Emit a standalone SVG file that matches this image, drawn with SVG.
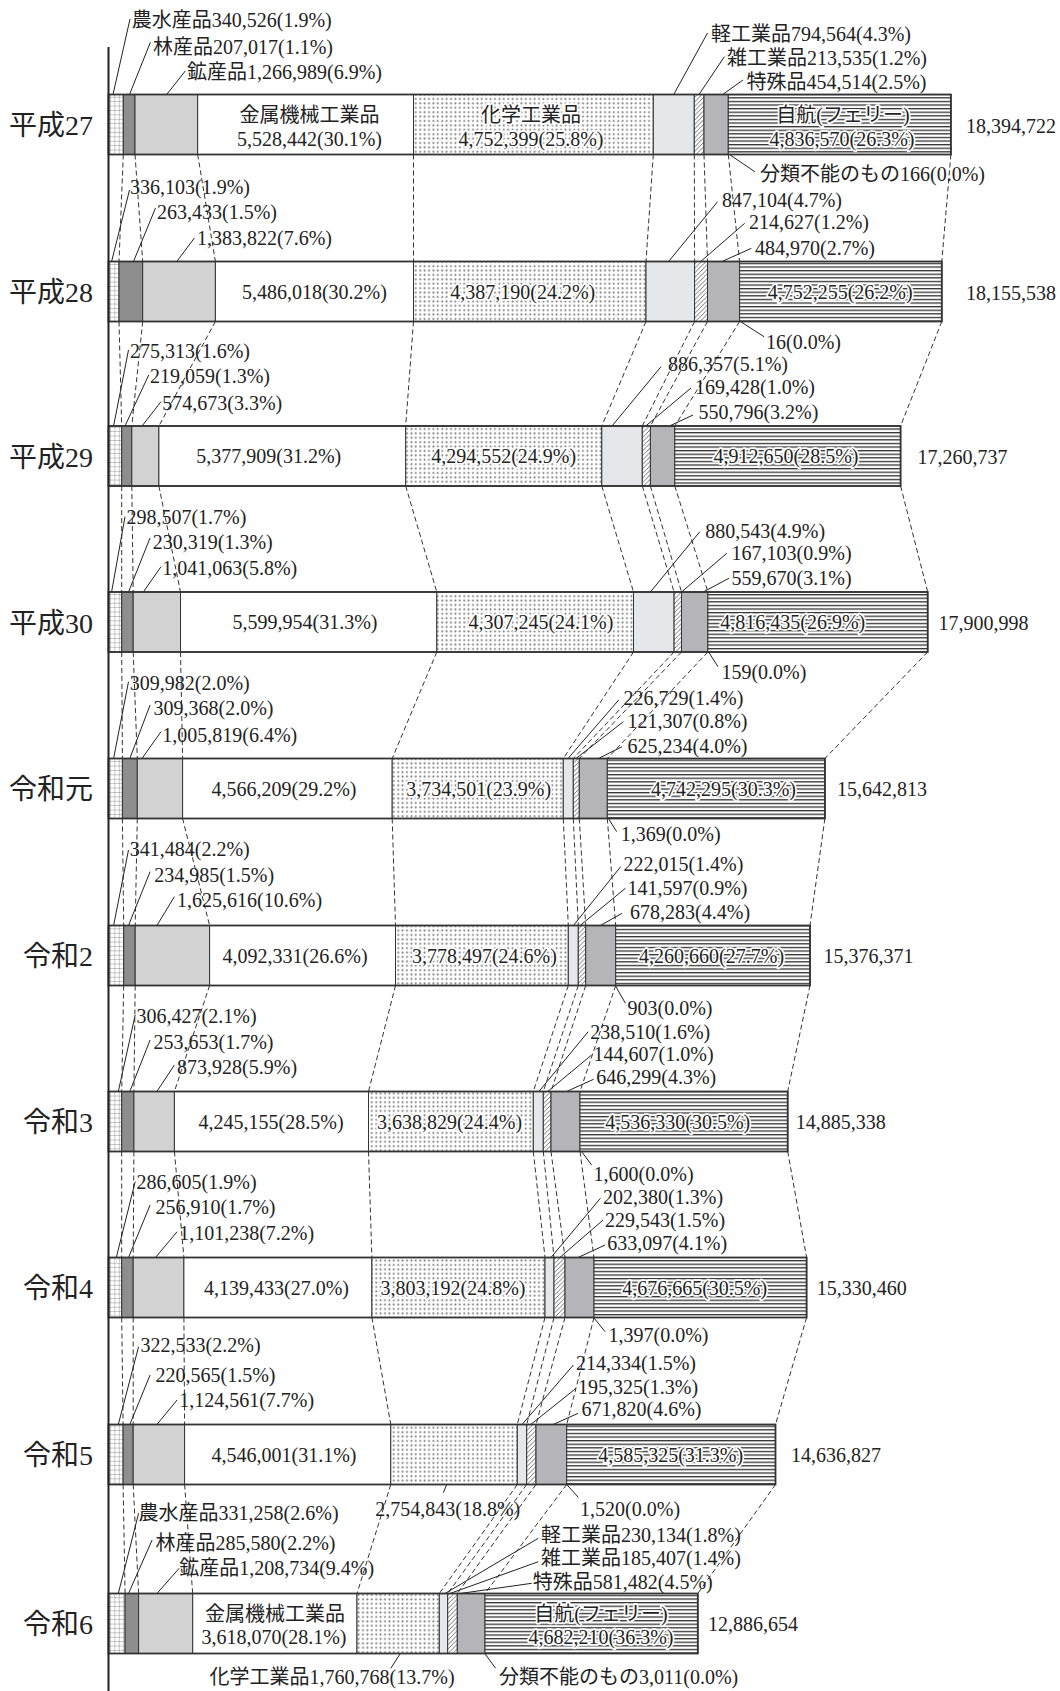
<svg xmlns="http://www.w3.org/2000/svg" width="1060" height="1691" viewBox="0 0 1060 1691">
<style>
.t{font-family:"Liberation Serif","Noto Sans CJK JP",serif;font-size:20px;fill:#222}
.m{text-anchor:middle}
.h{paint-order:stroke;stroke:#fff;stroke-width:3.5px;stroke-linejoin:round}
.rl{font-family:"Liberation Serif","Noto Sans CJK JP",serif;font-size:28px;fill:#222;text-anchor:end}
rect{stroke:#333;stroke-width:1}
.s0{fill:url(#grid)}.s1{fill:#8e8e8e}.s2{fill:#d2d2d2}.s3{fill:#fff}.s4{fill:url(#dots)}
.s5{fill:#e6e7e9}.s6{fill:url(#hatch)}.s7{fill:#b5b5b7}.s8{fill:url(#hl)}
.o{fill:none;stroke:#333;stroke-width:1.8}
.dash{fill:none;stroke:#333;stroke-width:1;stroke-dasharray:5 3}
.ld{fill:none;stroke:#222;stroke-width:1}
</style>
<defs>
<pattern id="grid" width="4.4" height="4.4" patternUnits="userSpaceOnUse"><rect width="4.4" height="4.4" style="fill:#fff;stroke:none"/><path d="M0,0H4.4M0,0V4.4" stroke="#777" stroke-width="0.8" fill="none"/></pattern>
<pattern id="dots" width="4.4" height="4.4" patternUnits="userSpaceOnUse"><rect width="4.4" height="4.4" style="fill:#fff;stroke:none"/><circle cx="2.2" cy="2.2" r="1" fill="#7a7a7a"/></pattern>
<pattern id="hatch" width="4.5" height="4.5" patternUnits="userSpaceOnUse"><rect width="4.5" height="4.5" style="fill:#fff;stroke:none"/><path d="M0,4.5L4.5,0M-1,1L1,-1M3.5,5.5L5.5,3.5" stroke="#333" stroke-width="0.7"/></pattern>
<pattern id="hl" width="4" height="3.6" patternUnits="userSpaceOnUse"><rect width="4" height="3.6" style="fill:#fff;stroke:none"/><rect width="4" height="1.3" style="fill:#333;stroke:none"/></pattern>
</defs>
<rect x="0" y="0" width="1060" height="1691" style="fill:#fff;stroke:none"/>

<g id="connectors">
<path class="dash" d="M123.3,154.5L119,261.5M135,154.5L142.7,261.5M197.7,154.5L215.4,261.5M413.5,154.5L413.5,261.5M653.3,154.5L646,261.5M694.3,154.5L694.6,261.5M704,154.5L707.5,261.5M728.3,154.5L739.6,261.5M950.9,154.5L941.8,261.5"/>
<path class="dash" d="M119,321.5L121.7,426M142.7,321.5L131.8,426M215.4,321.5L158.9,426M413.5,321.5L405.7,426M646,321.5L601.8,426M694.6,321.5L642.3,426M707.5,321.5L650.4,426M739.6,321.5L674.8,426M941.8,321.5L900.6,426"/>
<path class="dash" d="M121.7,486L121.7,592M131.8,486L133.2,592M158.9,486L180.5,592M405.7,486L436.8,592M601.8,486L633.5,592M642.3,486L674.1,592M650.4,486L681.5,592M674.8,486L707.9,592M900.6,486L927.7,592"/>
<path class="dash" d="M121.7,652L122.4,758.5M133.2,652L137.3,758.5M180.5,652L182.6,758.5M436.8,652L392.2,758.5M633.5,652L563.3,758.5M674.1,652L573.3,758.5M681.5,652L579.3,758.5M707.9,652L607.3,758.5M927.7,652L824.9,758.5"/>
<path class="dash" d="M122.4,818.5L123.7,925.5M137.3,818.5L135.2,925.5M182.6,818.5L209.6,925.5M392.2,818.5L395.5,925.5M563.3,818.5L568.3,925.5M573.3,818.5L578.3,925.5M579.3,818.5L585.7,925.5M607.3,818.5L615.7,925.5M824.9,818.5L810,925.5"/>
<path class="dash" d="M123.7,985.5L121.7,1091.5M135.2,985.5L133.9,1091.5M209.6,985.5L174.4,1091.5M395.5,985.5L368.5,1091.5M568.3,985.5L533.3,1091.5M578.3,985.5L543.3,1091.5M585.7,985.5L551,1091.5M615.7,985.5L580,1091.5M810,985.5L787.7,1091.5"/>
<path class="dash" d="M121.7,1151.5L121.7,1257.5M133.9,1151.5L133.2,1257.5M174.4,1151.5L183.9,1257.5M368.5,1151.5L371.9,1257.5M533.3,1151.5L545,1257.5M543.3,1151.5L554,1257.5M551,1151.5L565,1257.5M580,1151.5L594,1257.5M787.7,1151.5L806.6,1257.5"/>
<path class="dash" d="M121.7,1317.5L123.1,1424.5M133.2,1317.5L133.2,1424.5M183.9,1317.5L184.6,1424.5M371.9,1317.5L390.8,1424.5M545,1317.5L517.3,1424.5M554,1317.5L526.7,1424.5M565,1317.5L536,1424.5M594,1317.5L566.7,1424.5M806.6,1317.5L775.5,1424.5"/>
<path class="dash" d="M123.1,1484.5L125.1,1593.5M133.2,1484.5L138.6,1593.5M184.6,1484.5L192.7,1593.5M390.8,1484.5L357,1593.5M517.3,1484.5L439.3,1593.5M526.7,1484.5L447.7,1593.5M536,1484.5L457.3,1593.5M566.7,1484.5L485,1593.5M775.5,1484.5L697.8,1593.5"/>
<path class="ld" d="M130,19L113,94.5M150.4,42.3L129.5,94.5M185.3,71L166.7,94.5M707.5,33L673.7,94.5M724.4,56.7L699,94.5M743,80L722.7,94.5M729.5,154.5L754.8,171.7"/>
<path class="ld" d="M129.5,190L111.6,261.5M155.5,208L133.5,261.5M194.4,238L176.8,261.5M717.6,201.7L668.6,261.5M744.7,223.3L700.7,261.5M751.4,248.3L722,261.5M740.4,321.5L764,336.7"/>
<path class="ld" d="M128.5,350L113.6,426M148.7,375L125,426M161,401.7L142,426M661,366.7L612,426M691,388L645.7,426M693,415L669.4,426"/>
<path class="ld" d="M125,516.7L111.6,592M150,538L128.5,592M161,566.7L143.3,592M699.8,531.7L650.4,592M726.8,553.3L681.5,592M728.9,578.3L703.2,592M708.6,652L718,666.7"/>
<path class="ld" d="M128.5,681.7L113.6,758.5M150.1,705L129.8,758.5M161,731.7L142,758.5M618.7,700L568,758.5M623.4,721.7L576,758.5M622,746.7L598.4,758.5M608.5,818.5L616.6,831.7"/>
<path class="ld" d="M128.5,850L113.6,925.5M150.1,871.7L128.5,925.5M174.4,896.7L156.9,925.5M620.7,866.7L573.4,925.5M625.4,888.3L580.1,925.5M622,913.3L600.4,925.5M615.3,985.5L625.4,1003.3"/>
<path class="ld" d="M135.2,1015L118.3,1091.5M150.1,1040L129.8,1091.5M174.4,1065L156.9,1091.5M588.2,1031.7L538.9,1091.5M591.6,1055L547.7,1091.5M593.6,1079.3L566.6,1091.5M581.5,1151.5L591.6,1165"/>
<path class="ld" d="M135.2,1181.7L116.3,1257.5M150.1,1205L128.5,1257.5M177.1,1231.7L155.5,1257.5M600.4,1198.3L551,1257.5M603.1,1220L559.8,1257.5M605.1,1245L578.1,1257.5M593.6,1317.5L605.1,1331.7"/>
<path class="ld" d="M138.6,1346.7L118.3,1424.5M150.1,1375L129.8,1424.5M177.1,1400L156.9,1424.5M573.4,1365L522,1424.5M576,1388.3L530.8,1424.5M578.1,1413.3L553.1,1424.5M446.7,1484.5L443.3,1492.7M566.7,1484.5L578.3,1497.3"/>
<path class="ld" d="M138.6,1513.3L118.3,1593.5M152.1,1540L128.5,1593.5M179.2,1568.3L156.9,1593.5M538.3,1538.3L445,1593.5M538.3,1561.7L450,1593.5M531.7,1583.3L460,1593.5M400.3,1653.5L390.8,1668.3M484.8,1653.5L495.6,1668.3"/>
</g>

<g id="row-h27">
<rect class="s0" x="108.5" y="94.5" width="14.8" height="60"/><rect class="s1" x="123.3" y="94.5" width="11.7" height="60"/><rect class="s2" x="135" y="94.5" width="62.7" height="60"/><rect class="s3" x="197.7" y="94.5" width="215.8" height="60"/><rect class="s4" x="413.5" y="94.5" width="239.8" height="60"/><rect class="s5" x="653.3" y="94.5" width="41" height="60"/><rect class="s6" x="694.3" y="94.5" width="9.7" height="60"/><rect class="s7" x="704" y="94.5" width="24.3" height="60"/><rect class="s8" x="728.3" y="94.5" width="222.6" height="60"/><rect class="o" x="108.5" y="94.5" width="842.4" height="60"/>
<text class="rl" x="93" y="135">平成27</text>
<text class="t" x="131.8" y="27">農水産品340,526(1.9%)</text>
<text class="t" x="153" y="53.5">林産品207,017(1.1%)</text>
<text class="t" x="187" y="78.5">鉱産品1,266,989(6.9%)</text>
<text class="t" x="711" y="40.5">軽工業品794,564(4.3%)</text>
<text class="t" x="727" y="64.5">雑工業品213,535(1.2%)</text>
<text class="t" x="746.5" y="88.5">特殊品454,514(2.5%)</text>
<text class="t" x="760" y="180.5">分類不能のもの166(0.0%)</text>
<text class="t" x="966" y="133">18,394,722</text>
<text class="t m" x="309.5" y="122">金属機械工業品</text>
<text class="t m" x="309.5" y="145.5">5,528,442(30.1%)</text>
<text class="t m h" x="531" y="122">化学工業品</text>
<text class="t m h" x="531" y="145.5">4,752,399(25.8%)</text>
<text class="t m h" x="843" y="122">自航(フェリー)</text>
<text class="t m h" x="842" y="145.5">4,836,570(26.3%)</text>
</g>

<g id="row-h28">
<rect class="s0" x="108.5" y="261.5" width="10.5" height="60"/><rect class="s1" x="119" y="261.5" width="23.7" height="60"/><rect class="s2" x="142.7" y="261.5" width="72.7" height="60"/><rect class="s3" x="215.4" y="261.5" width="198.1" height="60"/><rect class="s4" x="413.5" y="261.5" width="232.5" height="60"/><rect class="s5" x="646" y="261.5" width="48.6" height="60"/><rect class="s6" x="694.6" y="261.5" width="12.9" height="60"/><rect class="s7" x="707.5" y="261.5" width="32.1" height="60"/><rect class="s8" x="739.6" y="261.5" width="202.2" height="60"/><rect class="o" x="108.5" y="261.5" width="833.3" height="60"/>
<text class="rl" x="93" y="302">平成28</text>
<text class="t" x="130" y="193.5">336,103(1.9%)</text>
<text class="t" x="157" y="218.5">263,433(1.5%)</text>
<text class="t" x="197" y="245">1,383,822(7.6%)</text>
<text class="t" x="722" y="207">847,104(4.7%)</text>
<text class="t" x="749" y="228.5">214,627(1.2%)</text>
<text class="t" x="755" y="255">484,970(2.7%)</text>
<text class="t" x="766" y="348.5">16(0.0%)</text>
<text class="t" x="966" y="300">18,155,538</text>
<text class="t m" x="314.4" y="298.5">5,486,018(30.2%)</text>
<text class="t m h" x="522.8" y="298.5">4,387,190(24.2%)</text>
<text class="t m h" x="840.2" y="298.5">4,752,255(26.2%)</text>
</g>

<g id="row-h29">
<rect class="s0" x="108.5" y="426" width="13.2" height="60"/><rect class="s1" x="121.7" y="426" width="10.1" height="60"/><rect class="s2" x="131.8" y="426" width="27.1" height="60"/><rect class="s3" x="158.9" y="426" width="246.8" height="60"/><rect class="s4" x="405.7" y="426" width="196.1" height="60"/><rect class="s5" x="601.8" y="426" width="40.5" height="60"/><rect class="s6" x="642.3" y="426" width="8.1" height="60"/><rect class="s7" x="650.4" y="426" width="24.4" height="60"/><rect class="s8" x="674.8" y="426" width="225.8" height="60"/><rect class="o" x="108.5" y="426" width="792.1" height="60"/>
<text class="rl" x="93" y="466.5">平成29</text>
<text class="t" x="130" y="357.5">275,313(1.6%)</text>
<text class="t" x="150" y="383">219,059(1.3%)</text>
<text class="t" x="162.3" y="409.5">574,673(3.3%)</text>
<text class="t" x="668" y="371">886,357(5.1%)</text>
<text class="t" x="695" y="393.5">169,428(1.0%)</text>
<text class="t" x="698.4" y="418.5">550,796(3.2%)</text>
<text class="t" x="917.5" y="463.5">17,260,737</text>
<text class="t m" x="268.8" y="463">5,377,909(31.2%)</text>
<text class="t m h" x="503.7" y="463">4,294,552(24.9%)</text>
<text class="t m h" x="786" y="463">4,912,650(28.5%)</text>
</g>

<g id="row-h30">
<rect class="s0" x="108.5" y="592" width="13.2" height="60"/><rect class="s1" x="121.7" y="592" width="11.5" height="60"/><rect class="s2" x="133.2" y="592" width="47.3" height="60"/><rect class="s3" x="180.5" y="592" width="256.3" height="60"/><rect class="s4" x="436.8" y="592" width="196.7" height="60"/><rect class="s5" x="633.5" y="592" width="40.6" height="60"/><rect class="s6" x="674.1" y="592" width="7.4" height="60"/><rect class="s7" x="681.5" y="592" width="26.4" height="60"/><rect class="s8" x="707.9" y="592" width="219.8" height="60"/><rect class="o" x="108.5" y="592" width="819.2" height="60"/>
<text class="rl" x="93" y="632.5">平成30</text>
<text class="t" x="126.4" y="523.5">298,507(1.7%)</text>
<text class="t" x="152.8" y="548.5">230,319(1.3%)</text>
<text class="t" x="162.3" y="575">1,041,063(5.8%)</text>
<text class="t" x="705.2" y="537.5">880,543(4.9%)</text>
<text class="t" x="731.6" y="560">167,103(0.9%)</text>
<text class="t" x="731.6" y="584.5">559,670(3.1%)</text>
<text class="t" x="721.4" y="678.5">159(0.0%)</text>
<text class="t" x="938.5" y="629.5">17,900,998</text>
<text class="t m" x="305" y="629">5,599,954(31.3%)</text>
<text class="t m h" x="540.9" y="629">4,307,245(24.1%)</text>
<text class="t m h" x="792.8" y="629">4,816,435(26.9%)</text>
</g>

<g id="row-r1">
<rect class="s0" x="108.5" y="758.5" width="13.9" height="60"/><rect class="s1" x="122.4" y="758.5" width="14.9" height="60"/><rect class="s2" x="137.3" y="758.5" width="45.3" height="60"/><rect class="s3" x="182.6" y="758.5" width="209.6" height="60"/><rect class="s4" x="392.2" y="758.5" width="171.1" height="60"/><rect class="s5" x="563.3" y="758.5" width="10" height="60"/><rect class="s6" x="573.3" y="758.5" width="6" height="60"/><rect class="s7" x="579.3" y="758.5" width="28" height="60"/><rect class="s8" x="607.3" y="758.5" width="217.6" height="60"/><rect class="o" x="108.5" y="758.5" width="716.4" height="60"/>
<text class="rl" x="93" y="799">令和元</text>
<text class="t" x="129.8" y="690.3">309,982(2.0%)</text>
<text class="t" x="153.5" y="715.3">309,368(2.0%)</text>
<text class="t" x="162.3" y="742">1,005,819(6.4%)</text>
<text class="t" x="623.4" y="705.3">226,729(1.4%)</text>
<text class="t" x="627.5" y="727.7">121,307(0.8%)</text>
<text class="t" x="627.5" y="752.7">625,234(4.0%)</text>
<text class="t" x="620.7" y="841.3">1,369(0.0%)</text>
<text class="t" x="837" y="796">15,642,813</text>
<text class="t m" x="284" y="795.5">4,566,209(29.2%)</text>
<text class="t m h" x="478.7" y="795.5">3,734,501(23.9%)</text>
<text class="t m h" x="723.5" y="795.5">4,742,295(30.3%)</text>
</g>

<g id="row-r2">
<rect class="s0" x="108.5" y="925.5" width="15.2" height="60"/><rect class="s1" x="123.7" y="925.5" width="11.5" height="60"/><rect class="s2" x="135.2" y="925.5" width="74.4" height="60"/><rect class="s3" x="209.6" y="925.5" width="185.9" height="60"/><rect class="s4" x="395.5" y="925.5" width="172.8" height="60"/><rect class="s5" x="568.3" y="925.5" width="10" height="60"/><rect class="s6" x="578.3" y="925.5" width="7.4" height="60"/><rect class="s7" x="585.7" y="925.5" width="30" height="60"/><rect class="s8" x="615.7" y="925.5" width="194.3" height="60"/><rect class="o" x="108.5" y="925.5" width="701.5" height="60"/>
<text class="rl" x="93" y="966">令和2</text>
<text class="t" x="129.8" y="856.3">341,484(2.2%)</text>
<text class="t" x="154.2" y="882">234,985(1.5%)</text>
<text class="t" x="177.1" y="907">1,625,616(10.6%)</text>
<text class="t" x="623.4" y="871.3">222,015(1.4%)</text>
<text class="t" x="627.5" y="894.7">141,597(0.9%)</text>
<text class="t" x="630.1" y="918.7">678,283(4.4%)</text>
<text class="t" x="627.5" y="1014.7">903(0.0%)</text>
<text class="t" x="823.5" y="962.5">15,376,371</text>
<text class="t m" x="295.1" y="962.5">4,092,331(26.6%)</text>
<text class="t m h" x="484.4" y="962.5">3,778,497(24.6%)</text>
<text class="t m h" x="711.6" y="962.5">4,260,660(27.7%)</text>
</g>

<g id="row-r3">
<rect class="s0" x="108.5" y="1091.5" width="13.2" height="60"/><rect class="s1" x="121.7" y="1091.5" width="12.2" height="60"/><rect class="s2" x="133.9" y="1091.5" width="40.5" height="60"/><rect class="s3" x="174.4" y="1091.5" width="194.1" height="60"/><rect class="s4" x="368.5" y="1091.5" width="164.8" height="60"/><rect class="s5" x="533.3" y="1091.5" width="10" height="60"/><rect class="s6" x="543.3" y="1091.5" width="7.7" height="60"/><rect class="s7" x="551" y="1091.5" width="29" height="60"/><rect class="s8" x="580" y="1091.5" width="207.7" height="60"/><rect class="o" x="108.5" y="1091.5" width="679.2" height="60"/>
<text class="rl" x="93" y="1132">令和3</text>
<text class="t" x="136.6" y="1022.7">306,427(2.1%)</text>
<text class="t" x="153.5" y="1048.7">253,653(1.7%)</text>
<text class="t" x="177.1" y="1073.7">873,928(5.9%)</text>
<text class="t" x="590.3" y="1038.7">238,510(1.6%)</text>
<text class="t" x="593.6" y="1061.3">144,607(1.0%)</text>
<text class="t" x="596.3" y="1083.7">646,299(4.3%)</text>
<text class="t" x="593.6" y="1181.3">1,600(0.0%)</text>
<text class="t" x="795.8" y="1129">14,885,338</text>
<text class="t m" x="271.1" y="1128.5">4,245,155(28.5%)</text>
<text class="t m h" x="449.6" y="1128.5">3,638,829(24.4%)</text>
<text class="t m h" x="677.8" y="1128.5">4,536,330(30.5%)</text>
</g>

<g id="row-r4">
<rect class="s0" x="108.5" y="1257.5" width="13.2" height="60"/><rect class="s1" x="121.7" y="1257.5" width="11.5" height="60"/><rect class="s2" x="133.2" y="1257.5" width="50.7" height="60"/><rect class="s3" x="183.9" y="1257.5" width="188" height="60"/><rect class="s4" x="371.9" y="1257.5" width="173.1" height="60"/><rect class="s5" x="545" y="1257.5" width="9" height="60"/><rect class="s6" x="554" y="1257.5" width="11" height="60"/><rect class="s7" x="565" y="1257.5" width="29" height="60"/><rect class="s8" x="594" y="1257.5" width="212.6" height="60"/><rect class="o" x="108.5" y="1257.5" width="698.1" height="60"/>
<text class="rl" x="93" y="1298">令和4</text>
<text class="t" x="136.6" y="1189.3">286,605(1.9%)</text>
<text class="t" x="155.5" y="1213.7">256,910(1.7%)</text>
<text class="t" x="179.2" y="1240.3">1,101,238(7.2%)</text>
<text class="t" x="603.1" y="1203.7">202,380(1.3%)</text>
<text class="t" x="605.1" y="1227">229,543(1.5%)</text>
<text class="t" x="607.2" y="1250.3">633,097(4.1%)</text>
<text class="t" x="608.5" y="1342">1,397(0.0%)</text>
<text class="t" x="816.8" y="1295">15,330,460</text>
<text class="t m" x="276.5" y="1294.5">4,139,433(27.0%)</text>
<text class="t m h" x="453" y="1294.5">3,803,192(24.8%)</text>
<text class="t m h" x="694.7" y="1294.5">4,676,665(30.5%)</text>
</g>

<g id="row-r5">
<rect class="s0" x="108.5" y="1424.5" width="14.6" height="60"/><rect class="s1" x="123.1" y="1424.5" width="10.1" height="60"/><rect class="s2" x="133.2" y="1424.5" width="51.4" height="60"/><rect class="s3" x="184.6" y="1424.5" width="206.2" height="60"/><rect class="s4" x="390.8" y="1424.5" width="126.5" height="60"/><rect class="s5" x="517.3" y="1424.5" width="9.4" height="60"/><rect class="s6" x="526.7" y="1424.5" width="9.3" height="60"/><rect class="s7" x="536" y="1424.5" width="30.7" height="60"/><rect class="s8" x="566.7" y="1424.5" width="208.8" height="60"/><rect class="o" x="108.5" y="1424.5" width="667" height="60"/>
<text class="rl" x="93" y="1465">令和5</text>
<text class="t" x="140.6" y="1352">322,533(2.2%)</text>
<text class="t" x="155.5" y="1382">220,565(1.5%)</text>
<text class="t" x="179.2" y="1407">1,124,561(7.7%)</text>
<text class="t" x="576" y="1370.3">214,334(1.5%)</text>
<text class="t" x="578.1" y="1393.7">195,325(1.3%)</text>
<text class="t" x="581.5" y="1416.3">671,820(4.6%)</text>
<text class="t" x="375.3" y="1515.5">2,754,843(18.8%)</text>
<text class="t" x="580.1" y="1516">1,520(0.0%)</text>
<text class="t" x="791" y="1462">14,636,827</text>
<text class="t m" x="284" y="1461.5">4,546,001(31.1%)</text>
<text class="t m h" x="670.7" y="1461.5">4,585,325(31.3%)</text>
</g>

<g id="row-r6">
<rect class="s0" x="108.5" y="1593.5" width="16.6" height="60"/><rect class="s1" x="125.1" y="1593.5" width="13.5" height="60"/><rect class="s2" x="138.6" y="1593.5" width="54.1" height="60"/><rect class="s3" x="192.7" y="1593.5" width="164.3" height="60"/><rect class="s4" x="357" y="1593.5" width="82.3" height="60"/><rect class="s5" x="439.3" y="1593.5" width="8.4" height="60"/><rect class="s6" x="447.7" y="1593.5" width="9.6" height="60"/><rect class="s7" x="457.3" y="1593.5" width="27.7" height="60"/><rect class="s8" x="485" y="1593.5" width="212.8" height="60"/><rect class="o" x="108.5" y="1593.5" width="589.3" height="60"/>
<text class="rl" x="93" y="1634">令和6</text>
<text class="t" x="138.6" y="1519.7">農水産品331,258(2.6%)</text>
<text class="t" x="155.5" y="1549.7">林産品285,580(2.2%)</text>
<text class="t" x="179.2" y="1575.3">鉱産品1,208,734(9.4%)</text>
<text class="t" x="540.9" y="1542">軽工業品230,134(1.8%)</text>
<text class="t" x="540.9" y="1564.7">雑工業品185,407(1.4%)</text>
<text class="t" x="532.8" y="1588.7">特殊品581,482(4.5%)</text>
<text class="t" x="708" y="1631">12,886,654</text>
<text class="t" x="209.6" y="1684.3">化学工業品1,760,768(13.7%)</text>
<text class="t" x="499" y="1684.3">分類不能のもの3,011(0.0%)</text>
<text class="t m" x="275" y="1621">金属機械工業品</text>
<text class="t m" x="274" y="1644">3,618,070(28.1%)</text>
<text class="t m h" x="601" y="1621">自航(フェリー)</text>
<text class="t m h" x="601" y="1644">4,682,210(36.3%)</text>
</g>

<g id="axis"><line x1="108.5" y1="47" x2="108.5" y2="1691" stroke="#222" stroke-width="2"/></g>
</svg>
